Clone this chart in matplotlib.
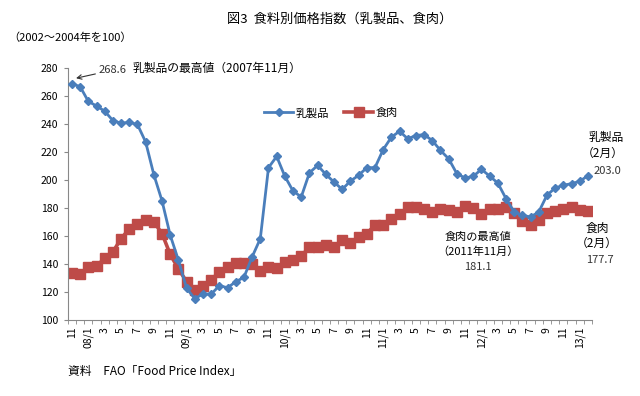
import matplotlib
matplotlib.use('Agg')
import matplotlib.pyplot as plt
from matplotlib.lines import Line2D

plt.rcParams['font.family'] = ['Noto Sans CJK JP', 'DejaVu Sans']

# 月次データ（2007年11月～2013年2月）
months = (['07/11', '07/12'] +
          ['%02d/%d' % (y, m) for y in range(8, 13) for m in range(1, 13)] +
          ['13/1', '13/2'])

dairy = [268.6, 266.5, 256.0, 252.7, 249.0, 242.3, 240.4, 241.0, 239.5, 227.0,
         203.7, 185.0, 160.5, 142.7, 122.6, 115.2, 118.6, 118.4, 124.5, 123.0,
         127.3, 130.4, 145.0, 158.0, 208.7, 216.7, 202.5, 192.0, 187.8, 205.0,
         210.3, 203.9, 198.4, 193.2, 199.1, 203.2, 208.7, 208.7, 221.5, 230.4,
         234.7, 229.3, 231.6, 232.3, 228.0, 221.0, 215.0, 204.4, 201.3, 202.5,
         207.5, 202.7, 197.7, 186.6, 177.1, 174.7, 173.5, 177.1, 189.0, 194.2,
         196.1, 197.3, 198.9, 203.0]

meat = [133.8, 133.0, 137.5, 138.5, 144.0, 148.6, 158.0, 165.0, 168.8, 171.0,
        170.0, 161.7, 146.8, 136.5, 127.3, 121.4, 124.3, 128.5, 134.4, 138.0,
        140.4, 141.0, 140.0, 135.0, 138.0, 136.8, 141.5, 142.7, 145.8, 151.8,
        152.2, 153.4, 151.8, 157.0, 154.6, 158.9, 161.7, 167.6, 168.0, 172.0,
        175.4, 180.5, 180.3, 179.0, 177.1, 179.5, 178.5, 177.1, 181.1, 180.2,
        175.4, 179.0, 179.0, 180.6, 176.0, 170.5, 167.6, 171.2, 176.0, 177.8,
        179.0, 180.8, 178.8, 177.7]

# 目盛ラベル（2か月ごと）
tick_labels = []
for s in months[::2]:
    yy, mm = s.split('/')
    tick_labels.append(yy + '/1' if mm == '1' else mm)

blue = '#4A7EBB'
red = '#BE4B48'

x = list(range(len(months)))

fig = plt.figure(figsize=(6.4, 3.96), dpi=100)
ax = fig.add_axes([0.106, 0.192, 0.819, 0.637])

ax.plot(x, meat, color=red, lw=2.6, marker='s', ms=6.5, mec=red, mfc=red, zorder=2)
ax.plot(x, dairy, color=blue, lw=2.0, marker='D', ms=4.4, mec=blue, mfc=blue, zorder=3)

ax.set_xlim(-0.5, len(months) - 0.5)
ax.set_ylim(100, 280)
ax.set_yticks(range(100, 281, 20))
ax.tick_params(axis='y', labelsize=7.5, length=3, color='#888888', pad=4)

ax.set_xticks(x[::2])
ax.set_xticklabels(tick_labels, rotation=90, fontsize=7.5)
ax.set_xticks([i - 0.5 for i in range(len(months) + 1)], minor=True)
ax.tick_params(axis='x', which='major', length=0, pad=5)
ax.tick_params(axis='x', which='minor', length=3, color='#888888')

for side in ['top', 'right']:
    ax.spines[side].set_visible(False)
for side in ['left', 'bottom']:
    ax.spines[side].set_color('#888888')
    ax.spines[side].set_linewidth(0.8)

# 凡例
handles = [Line2D([], [], color=blue, lw=2.0, marker='D', ms=4.4),
           Line2D([], [], color=red, lw=2.6, marker='s', ms=6.5)]
ax.legend(handles, ['乳製品', '食肉'], loc='center', bbox_to_anchor=(0.502, 0.82),
          ncol=2, frameon=False, fontsize=8, handlelength=2.6,
          columnspacing=1.4, handletextpad=0.2)

# 注記
ax.annotate('268.6', xy=(0.5, 272.5), xytext=(3.2, 278.2),
            fontsize=8, va='center', ha='left', color='#333333',
            arrowprops=dict(arrowstyle='->', color='#333333', lw=0.8,
                            shrinkA=0, shrinkB=0), annotation_clip=False)
fig.text(133 / 640, 1 - 68 / 396, '乳製品の最高値（2007年11月）', fontsize=8.5, va='center')

fig.text(606 / 640, 1 - 138 / 396, '乳製品', fontsize=8.5, ha='center', va='center')
fig.text(603 / 640, 1 - 153 / 396, '（2月）', fontsize=8.5, ha='center', va='center')
fig.text(607 / 640, 1 - 171 / 396, '203.0', fontsize=8, ha='center', va='center', color='#333333')

fig.text(597 / 640, 1 - 228 / 396, '食肉', fontsize=8.5, ha='center', va='center')
fig.text(597 / 640, 1 - 243 / 396, '（2月）', fontsize=8.5, ha='center', va='center')
fig.text(600 / 640, 1 - 260 / 396, '177.7', fontsize=8, ha='center', va='center', color='#333333')

fig.text(478 / 640, 1 - 237 / 396, '食肉の最高値', fontsize=8, ha='center', va='center')
fig.text(478 / 640, 1 - 252 / 396, '（2011年11月）', fontsize=8, ha='center', va='center')
fig.text(478 / 640, 1 - 267 / 396, '181.1', fontsize=8, ha='center', va='center', color='#333333')

# タイトル・単位・資料
fig.text(0.53, 1 - 19 / 396, '図3  食料別価格指数（乳製品、食肉）', fontsize=9.5, ha='center', va='center')
fig.text(8 / 640, 1 - 38 / 396, '（2002～2004年を100）', fontsize=8, va='center')
fig.text(68 / 640, 1 - 371 / 396, '資料　FAO「Food Price Index」', fontsize=8.5, va='center')

fig.savefig('out.png', dpi=100)
